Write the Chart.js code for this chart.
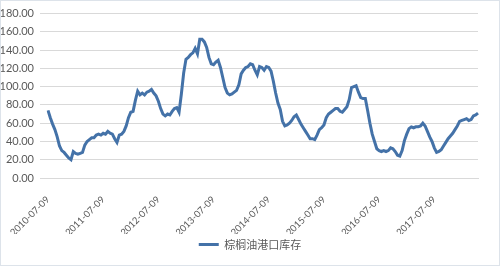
<!DOCTYPE html>
<html>
<head>
<meta charset="utf-8">
<script src="https://cdn.jsdelivr.net/npm/chart.js@4"></script>
<style>
  html, body { margin: 0; padding: 0; background: #fff; }
  #box { width: 500px; height: 266px; box-sizing: border-box; border: 1px solid #dde3ea; }
</style>
</head>
<body>
<div id="box"><canvas id="myChart1" width="498" height="264"></canvas></div>
<script>
// 半月度数据（每月 09 日、24 日），2010-07-09 起
const startYear = 2010;
const startMonth = 7;
const seriesName = '棕榈油港口库存';
const stock = [
    74, 66, 59, 53, 45, 35, 30, 28, 25, 22, 20, 29, 27, 26, 27, 28, 36, 40, 42, 44, 44, 47, 48, 47,
    49, 48, 51, 49, 48, 43, 39, 47, 48, 51, 57, 66, 72, 73, 85, 95, 91, 93, 91, 94, 95, 97, 93, 90,
    84, 76, 70, 68, 70, 69, 73, 76, 77, 72, 92, 115, 130, 132, 135, 137, 142, 136, 152, 152, 149, 143, 132, 125,
    124, 127, 129, 121, 110, 99, 93, 91, 92, 94, 96, 102, 114, 118, 121, 122, 125, 124, 118, 113, 122, 121, 118, 122,
    121, 117, 106, 93, 82, 75, 62, 57, 58, 60, 63, 67, 69, 64, 59, 55, 51, 47, 43, 43, 42, 47, 53, 55,
    58, 66, 70, 72, 74, 76, 76, 73, 72, 75, 78, 86, 99, 100, 101, 94, 88, 87, 87, 74, 60, 48, 40, 32,
    30, 29, 30, 29, 30, 33, 32, 29, 25, 24, 30, 41, 48, 54, 56, 55, 56, 56, 57, 60, 57, 51, 45, 40,
    33, 28, 29, 31, 35, 39, 43, 46, 49, 53, 57, 62, 63, 64, 65, 63, 64, 68, 69, 71
];
const yMin = 0, yMax = 180, yStep = 20;

const labels = stock.map((v, i) => {
    const m = startMonth - 1 + Math.floor(i / 2);
    const y = startYear + Math.floor(m / 12);
    const mm = String(m % 12 + 1).padStart(2, '0');
    return y + '-' + mm + (i % 2 === 0 ? '-09' : '-24');
});

document.addEventListener('DOMContentLoaded', function () {
    const ctx1 = document.getElementById('myChart1').getContext('2d');
    new Chart(ctx1, {
        type: 'line',
        data: {
            labels: labels,
            datasets: [{
                label: seriesName,
                data: stock,
                borderColor: '#4472a8',
                backgroundColor: '#4472a8',
                borderWidth: 3,
                pointRadius: 0,
                tension: 0
            }]
        },
        options: {
            responsive: false,
            animation: false,
            layout: { padding: { left: 0, right: 0, top: 8, bottom: 5 } },
            scales: {
                x: {
                    offset: false,
                    grid: { display: false },
                    border: { color: '#d9d9d9' },
                    afterFit: function (s) {
                        // 标签区域高度固定，左右留白固定
                        s.paddingLeft = 0;
                        s.paddingRight = 21;
                        s.height = 56;
                    },
                    ticks: {
                        autoSkip: false,
                        maxRotation: 45,
                        minRotation: 45,
                        padding: 8,
                        color: '#595959',
                        font: { family: 'Lato', size: 9.5 },
                        callback: function (val, i) {
                            return i % 24 === 0 ? labels[i] : null;
                        }
                    }
                },
                y: {
                    min: yMin,
                    max: yMax,
                    border: { display: false },
                    grid: { color: '#d9d9d9' },
                    afterFit: function (s) {
                        s.width = 47;
                    },
                    ticks: {
                        stepSize: yStep,
                        padding: 6,
                        color: '#595959',
                        font: { family: 'Lato', size: 11 },
                        callback: v => v.toFixed(2)
                    }
                }
            },
            plugins: {
                legend: {
                    position: 'bottom',
                    labels: {
                        usePointStyle: true,
                        pointStyle: 'line',
                        pointStyleWidth: 20,
                        boxWidth: 20,
                        padding: 5,
                        color: '#595959',
                        font: { family: 'Noto Sans CJK SC', size: 11 }
                    }
                },
                tooltip: { enabled: false }
            }
        }
    });
});
</script>
</body>
</html>
